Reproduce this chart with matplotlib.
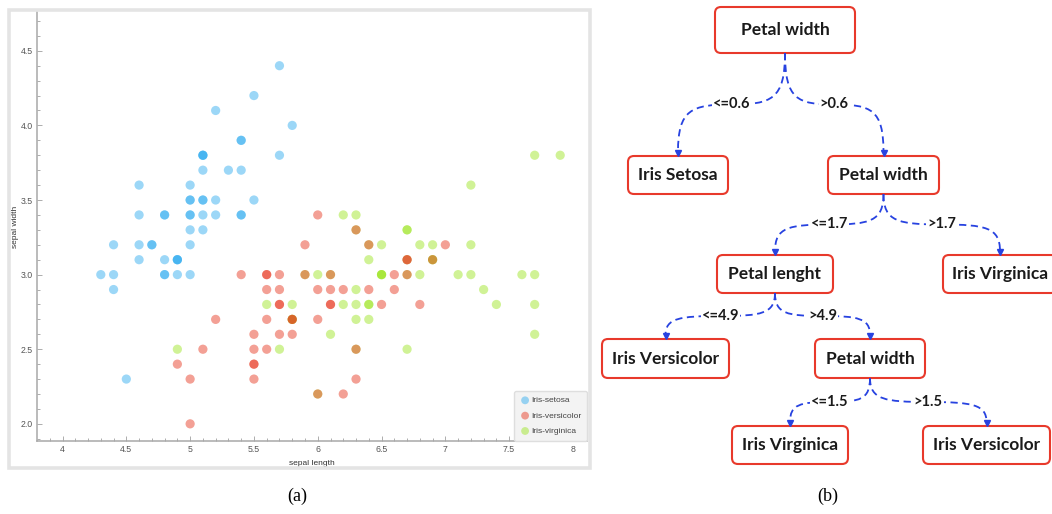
import matplotlib
matplotlib.use("Agg")
import matplotlib.pyplot as plt
import numpy as np
from matplotlib.patches import FancyBboxPatch, PathPatch, Rectangle
from matplotlib.path import Path

# Iris: sepal length / sepal width
setosa_len = [5.1, 4.9, 4.7, 4.6, 5.0, 5.4, 4.6, 5.0, 4.4, 4.9, 5.4, 4.8, 4.8, 4.3, 5.8, 5.7, 5.4,
              5.1, 5.7, 5.1, 5.4, 5.1, 4.6, 5.1, 4.8, 5.0, 5.0, 5.2, 5.2, 4.7, 4.8, 5.4, 5.2, 5.5,
              4.9, 5.0, 5.5, 4.9, 4.4, 5.1, 5.0, 4.5, 4.4, 5.0, 5.1, 4.8, 5.1, 4.6, 5.3, 5.0]
setosa_wid = [3.5, 3.0, 3.2, 3.1, 3.6, 3.9, 3.4, 3.4, 2.9, 3.1, 3.7, 3.4, 3.0, 3.0, 4.0, 4.4, 3.9,
              3.5, 3.8, 3.8, 3.4, 3.7, 3.6, 3.3, 3.4, 3.0, 3.4, 3.5, 3.4, 3.2, 3.1, 3.4, 4.1, 4.2,
              3.1, 3.2, 3.5, 3.1, 3.0, 3.4, 3.5, 2.3, 3.2, 3.5, 3.8, 3.0, 3.8, 3.2, 3.7, 3.3]
versicolor_len = [7.0, 6.4, 6.9, 5.5, 6.5, 5.7, 6.3, 4.9, 6.6, 5.2, 5.0, 5.9, 6.0, 6.1, 5.6, 6.7,
                  5.6, 5.8, 6.2, 5.6, 5.9, 6.1, 6.3, 6.1, 6.4, 6.6, 6.8, 6.7, 6.0, 5.7, 5.5, 5.5,
                  5.8, 6.0, 5.4, 6.0, 6.7, 6.3, 5.6, 5.5, 5.5, 6.1, 5.8, 5.0, 5.6, 5.7, 5.7, 6.2,
                  5.1, 5.7]
versicolor_wid = [3.2, 3.2, 3.1, 2.3, 2.8, 2.8, 3.3, 2.4, 2.9, 2.7, 2.0, 3.0, 2.2, 2.9, 2.9, 3.1,
                  3.0, 2.7, 2.2, 2.5, 3.2, 2.8, 2.5, 2.8, 2.9, 3.0, 2.8, 3.0, 2.9, 2.6, 2.4, 2.4,
                  2.7, 2.7, 3.0, 3.4, 3.1, 2.3, 3.0, 2.5, 2.6, 3.0, 2.6, 2.3, 2.7, 3.0, 2.9, 2.9,
                  2.5, 2.8]
virginica_len = [6.3, 5.8, 7.1, 6.3, 6.5, 7.6, 4.9, 7.3, 6.7, 7.2, 6.5, 6.4, 6.8, 5.7, 5.8, 6.4,
                 6.5, 7.7, 7.7, 6.0, 6.9, 5.6, 7.7, 6.3, 6.7, 7.2, 6.2, 6.1, 6.4, 7.2, 7.4, 7.9,
                 6.4, 6.3, 6.1, 7.7, 6.3, 6.4, 6.0, 6.9, 6.7, 6.9, 5.8, 6.8, 6.7, 6.7, 6.3, 6.5,
                 6.2, 5.9]
virginica_wid = [3.3, 2.7, 3.0, 2.9, 3.0, 3.0, 2.5, 2.9, 2.5, 3.6, 3.2, 2.7, 3.0, 2.5, 2.8, 3.2,
                 3.0, 3.8, 2.6, 2.2, 3.2, 2.8, 2.8, 2.7, 3.3, 3.2, 2.8, 3.0, 2.8, 3.0, 2.8, 3.8,
                 2.8, 2.8, 2.6, 3.0, 3.4, 3.1, 3.0, 3.1, 3.1, 3.1, 2.7, 3.2, 3.3, 3.0, 2.5, 3.0,
                 3.4, 3.0]
species = ["Iris-setosa", "Iris-versicolor", "Iris-virginica"]

# decision tree
node_labels = ["Petal width", "Iris Setosa", "Petal width", "Petal lenght", "Iris Virginica",
               "Iris Versicolor", "Petal width", "Iris Virginica", "Iris Versicolor"]
edge_parent = [0, 0, 2, 2, 3, 3, 6, 6]
edge_child = [1, 2, 3, 4, 5, 6, 7, 8]
edge_labels = ["<=0.6", ">0.6", "<=1.7", ">1.7", "<=4.9", ">4.9", "<=1.5", ">1.5"]

# layout (figure pixels, y down)
node_xy = [(785, 30), (678, 175), (883.5, 175), (775, 274), (1000, 274),
           (665.5, 358.5), (870, 358.5), (790, 445), (986.5, 445)]
node_wh = [(140, 46), (100, 38), (111, 38), (116, 38), (114, 38),
           (127, 39), (110, 39), (116, 38), (127, 38)]

W, H = 1052, 514
fig = plt.figure(figsize=(W / 100, H / 100), dpi=100)

# ---- (a) scatter ----
ax = fig.add_axes([37 / W, (H - 441) / H, (587 - 37) / W, (441 - 12) / H])
colors = {"Iris-setosa": "#25a8ef", "Iris-versicolor": "#e62c14", "Iris-virginica": "#97e416"}
groups = {"Iris-setosa": (setosa_len, setosa_wid),
          "Iris-versicolor": (versicolor_len, versicolor_wid),
          "Iris-virginica": (virginica_len, virginica_wid)}
handles = {}
# versicolor sits on top of virginica in the reference
for name in ["Iris-setosa", "Iris-virginica", "Iris-versicolor"]:
    xs, ys = groups[name]
    handles[name] = ax.scatter(xs, ys, s=44, color=colors[name], alpha=0.45,
                               edgecolors="none", label=name)

ax.set_xlim(3.8, 8.11)
ax.set_ylim(1.885, 4.76)
ax.set_xticks([4, 4.5, 5, 5.5, 6, 6.5, 7, 7.5, 8])
ax.set_xticklabels(["4", "4.5", "5", "5.5", "6", "6.5", "7", "7.5", "8"])
ax.set_yticks([2.0, 2.5, 3.0, 3.5, 4.0, 4.5])
ax.set_xticks(np.arange(3.9, 8.11, 0.1), minor=True)
ax.set_yticks(np.arange(1.9, 4.76, 0.1), minor=True)
for s in ["top", "right"]:
    ax.spines[s].set_visible(False)
for s in ["left", "bottom"]:
    ax.spines[s].set_color("#a8a8a8")
    ax.spines[s].set_linewidth(1.1)
ax.tick_params(which="both", direction="in", colors="#a0a0a0", labelcolor="#555555",
               labelsize=6.3, width=0.6)
ax.tick_params(which="major", length=3.5, pad=3)
ax.tick_params(which="minor", length=2)
for lab in ax.get_xticklabels() + ax.get_yticklabels():
    lab.set_family("Liberation Sans")
ax.set_xlabel("sepal length", fontsize=6, family="Liberation Sans", color="#333333", labelpad=4)
ax.set_ylabel("sepal width", fontsize=6, family="Liberation Sans", color="#333333", labelpad=1)
leg = ax.legend([handles[n] for n in species], species, loc="lower right", borderaxespad=0,
                frameon=True, prop={"family": "Liberation Sans", "size": 6},
                handletextpad=0.05, labelspacing=0.9, borderpad=0.7, markerscale=0.85,
                handlelength=1.3)
leg.get_frame().set_facecolor("#f3f3f3")
leg.get_frame().set_edgecolor("#dedede")
leg.get_frame().set_alpha(1)
for t in leg.get_texts():
    t.set_color("#444444")

# ---- overlay for frame, tree and captions ----
ov = fig.add_axes([0, 0, 1, 1], zorder=5)
ov.set_xlim(0, W)
ov.set_ylim(H, 0)
ov.axis("off")
ov.patch.set_alpha(0)

ov.add_patch(Rectangle((8.5, 9.5), 581, 458, fill=False, edgecolor="#e4e4e4", linewidth=2.6))

red = "#e8392b"
blue = "#2742e0"
for (cx, cy), (bw, bh), txt in zip(node_xy, node_wh, node_labels):
    ov.add_patch(FancyBboxPatch((cx - bw / 2, cy - bh / 2), bw, bh,
                                boxstyle="round,pad=0,rounding_size=6",
                                facecolor="white", edgecolor=red, linewidth=1.5))
    ov.text(cx, cy, txt, ha="center", va="center", fontsize=12.5, fontweight="bold",
            family="Lato", color="#1a1a1a")

for p, c, lab in zip(edge_parent, edge_child, edge_labels):
    px, py = node_xy[p][0], node_xy[p][1] + node_wh[p][1] / 2
    cx, cy = node_xy[c][0], node_xy[c][1] - node_wh[c][1] / 2
    lx, my = (px + cx) / 2, (py + cy) / 2
    path = Path([(px, py), (px, py + (my - py) * 0.9), (px + (lx - px) * 0.25, my), (lx, my),
                 (cx - (cx - lx) * 0.25, my), (cx, my + (cy - my) * 0.1), (cx, cy - 4)],
                [Path.MOVETO, Path.CURVE4, Path.CURVE4, Path.CURVE4,
                 Path.CURVE4, Path.CURVE4, Path.CURVE4])
    ov.add_patch(PathPatch(path, fill=False, edgecolor=blue, linewidth=1.3,
                           linestyle=(0, (4, 2.5))))
    ov.plot([cx], [cy - 3], marker="v", color=blue, markersize=4.5, linestyle="none")
    ov.text(lx, my, lab, ha="center", va="center", fontsize=10.5, fontweight="bold",
            family="Lato", color="#1a1a1a",
            bbox=dict(facecolor="white", edgecolor="none", pad=0.6))

ov.text(297, 496, "(a)", ha="center", va="center", fontsize=13, family="Liberation Serif")
ov.text(828, 496, "(b)", ha="center", va="center", fontsize=13, family="Liberation Serif")

fig.savefig("out.png", dpi=100)
